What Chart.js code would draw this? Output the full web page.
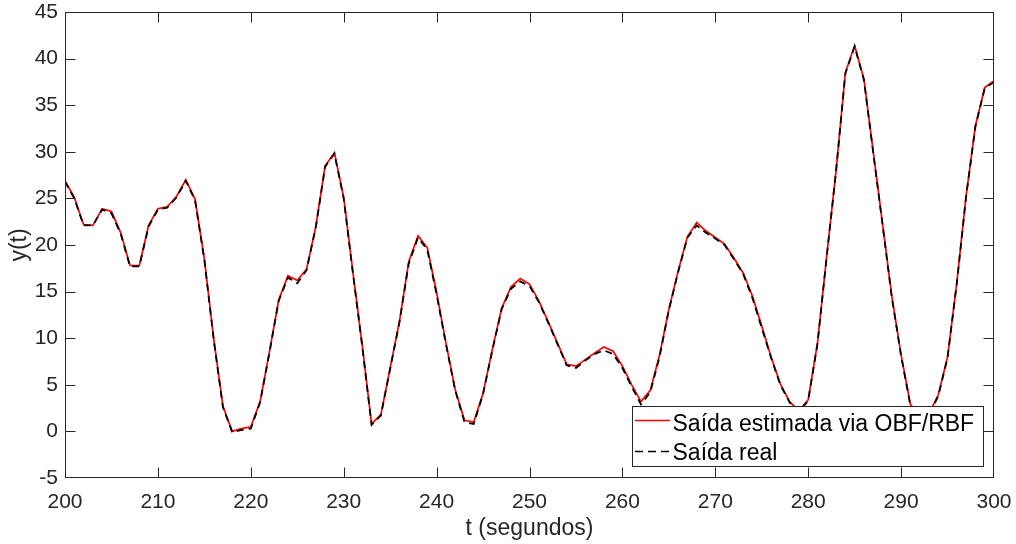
<!DOCTYPE html>
<html>
<head>
<meta charset="utf-8">
<script src="https://cdn.jsdelivr.net/npm/chart.js@4/dist/chart.umd.min.js"></script>
<style>
  body { margin: 0; background: #fff; }
  #wrap { width: 1016px; height: 544px; position: relative; }
</style>
</head>
<body>
<div id="wrap"><canvas id="saida-chart"></canvas></div>
<script>
const tempo = [
  200, 201, 202, 203, 204, 205, 206, 207, 208, 209,
  210, 211, 212, 213, 214, 215, 216, 217, 218, 219,
  220, 221, 222, 223, 224, 225, 226, 227, 228, 229,
  230, 231, 232, 233, 234, 235, 236, 237, 238, 239,
  240, 241, 242, 243, 244, 245, 246, 247, 248, 249,
  250, 251, 252, 253, 254, 255, 256, 257, 258, 259,
  260, 261, 262, 263, 264, 265, 266, 267, 268, 269,
  270, 271, 272, 273, 274, 275, 276, 277, 278, 279,
  280, 281, 282, 283, 284, 285, 286, 287, 288, 289,
  290, 291, 292, 293, 294, 295, 296, 297, 298, 299,
  300,
];

// saída do modelo OBF/RBF
const saidaEstimada = [
  26.9, 25.1, 22.2, 22.1, 23.9, 23.6, 21.3, 17.8, 17.8, 22.1,
  23.9, 24.1, 25.2, 27.0, 24.9, 18.5, 10.0, 2.7, 0.0, 0.3,
  0.5, 3.2, 8.5, 14.1, 16.7, 16.2, 17.4, 22.0, 28.5, 29.9,
  25.1, 17.0, 9.2, 0.8, 1.8, 6.8, 11.8, 18.2, 21.0, 19.7,
  14.9, 9.5, 4.5, 1.2, 1.0, 4.1, 8.8, 13.2, 15.5, 16.4,
  15.8, 14.0, 11.8, 9.5, 7.2, 7.0, 7.7, 8.4, 9.05, 8.6,
  7.0, 5.0, 3.2, 4.4, 8.2, 13.1, 17.2, 20.9, 22.4, 21.5,
  20.8, 20.1, 18.6, 17.0, 14.5, 11.3, 8.0, 5.1, 3.2, 2.2,
  3.4, 9.5, 18.9, 28.0, 38.5, 41.4, 37.8, 30.0, 22.3, 14.5,
  8.2, 2.9, 1.6, 1.9, 3.9, 8.0, 16.0, 25.3, 32.8, 36.9,
  37.6,
];

// saída medida do processo
const saidaReal = [
  26.8, 25.0, 22.1, 22.1, 23.8, 23.4, 21.2, 17.7, 17.7, 22.0,
  23.8, 24.0, 25.1, 26.9, 24.8, 18.4, 9.9, 2.6, -0.1, 0.15,
  0.3, 3.1, 8.4, 14.0, 16.5, 15.9, 17.3, 21.9, 28.4, 29.8,
  25.0, 16.9, 9.1, 0.7, 1.7, 6.7, 11.7, 18.0, 20.8, 19.5,
  14.7, 9.4, 4.4, 1.0, 0.8, 4.0, 8.7, 13.1, 15.3, 16.1,
  15.6, 13.9, 11.7, 9.4, 7.1, 6.8, 7.6, 8.3, 8.7, 8.3,
  6.8, 4.8, 2.9, 4.2, 8.0, 13.0, 17.1, 20.8, 22.1, 21.3,
  20.7, 20.0, 18.5, 16.9, 14.3, 11.1, 7.9, 5.0, 3.1, 2.1,
  3.3, 9.4, 18.8, 27.9, 38.4, 41.3, 37.7, 29.9, 22.2, 14.4,
  8.1, 2.8, 1.5, 1.8, 3.8, 7.9, 15.9, 25.2, 32.7, 36.8,
  37.5,
];

const yTicks = [-5, 0, 5, 10, 15, 20, 25, 30, 35, 40, 45];
const xTicks = [200, 210, 220, 230, 240, 250, 260, 270, 280, 290, 300];
const legendLabels = ["Saída estimada via OBF/RBF", "Saída real"];

const eixoCor = "#262626";
Chart.defaults.font.family = "'Liberation Sans', Arial, Helvetica, sans-serif";
Chart.defaults.color = eixoCor;

const toPoints = (ys) => tempo.map((t, i) => ({ x: t, y: ys[i] }));

// fixa o tamanho dos eixos e tira a folga que o Chart.js reserva para os rótulos
const fixScale = (size) => (scale) => {
  if (scale.isHorizontal()) scale.height = size;
  else scale.width = size;
  scale.paddingTop = 0;
  scale.paddingBottom = 0;
  scale.paddingLeft = 0;
  scale.paddingRight = 0;
};

const clamp = (v, lo, hi) => Math.min(Math.max(v, lo), hi);

// moldura com marcas para dentro nos quatro lados
const boxPlugin = {
  id: "box",
  afterDraw(chart) {
    const { ctx, chartArea: a, scales } = chart;
    const l = Math.round(a.left) + 0.5;
    const r = Math.round(a.right) - 0.5;
    const t = Math.round(a.top) + 0.5;
    const b = Math.round(a.bottom) - 0.5;
    ctx.save();
    ctx.strokeStyle = eixoCor;
    ctx.lineWidth = 1;
    ctx.strokeRect(l, t, r - l, b - t);
    ctx.beginPath();
    xTicks.forEach((v) => {
      const px = clamp(Math.round(scales.x.getPixelForValue(v)) + 0.5, l, r);
      ctx.moveTo(px, b);
      ctx.lineTo(px, b - 10);
      ctx.moveTo(px, t);
      ctx.lineTo(px, t + 10);
    });
    yTicks.forEach((v) => {
      const py = clamp(Math.round(scales.y.getPixelForValue(v)) + 0.5, t, b);
      ctx.moveTo(l, py);
      ctx.lineTo(l + 10, py);
      ctx.moveTo(r, py);
      ctx.lineTo(r - 10, py);
    });
    ctx.stroke();
    ctx.restore();
  },
};

// legenda com caixa no canto inferior direito
const legendPlugin = {
  id: "boxLegend",
  afterDraw(chart) {
    const { ctx } = chart;
    const x0 = 632.5, y0 = 406.5, w = 351, h = 60;
    ctx.save();
    ctx.fillStyle = "#fff";
    ctx.fillRect(x0, y0, w, h);
    ctx.strokeStyle = eixoCor;
    ctx.lineWidth = 1;
    ctx.strokeRect(x0, y0, w, h);

    ctx.lineWidth = 1.6;
    ctx.strokeStyle = "#ff0000";
    ctx.beginPath();
    ctx.moveTo(635, 420.5);
    ctx.lineTo(670, 420.5);
    ctx.stroke();

    ctx.strokeStyle = "#000";
    ctx.setLineDash([8, 5]);
    ctx.beginPath();
    ctx.moveTo(635, 451.5);
    ctx.lineTo(670, 451.5);
    ctx.stroke();
    ctx.setLineDash([]);

    ctx.fillStyle = "#000";
    ctx.font = "23px 'Liberation Sans', Arial, sans-serif";
    ctx.textBaseline = "alphabetic";
    ctx.textAlign = "left";
    ctx.fillText(legendLabels[0], 672.5, 430.5);
    ctx.fillText(legendLabels[1], 672.5, 460);
    ctx.restore();
  },
};

new Chart(document.getElementById("saida-chart"), {
  type: "line",
  data: {
    datasets: [
      {
        label: legendLabels[0],
        data: toPoints(saidaEstimada),
        borderColor: "#ff0000",
        borderWidth: 1.7,
        pointRadius: 0,
        tension: 0,
        order: 1,
      },
      {
        label: legendLabels[1],
        data: toPoints(saidaReal),
        borderColor: "#000000",
        borderWidth: 1.8,
        borderDash: [7, 5],
        pointRadius: 0,
        tension: 0,
        order: 0,
      },
    ],
  },
  options: {
    responsive: true,
    maintainAspectRatio: false,
    animation: false,
    layout: { padding: { top: 12, right: 22, left: 0, bottom: 0 } },
    plugins: {
      legend: { display: false },
      tooltip: { enabled: false },
    },
    scales: {
      x: {
        type: "linear",
        min: 200,
        max: 300,
        afterFit: fixScale(66),
        afterBuildTicks: (scale) => { scale.ticks = xTicks.map((v) => ({ value: v })); },
        grid: { display: false, drawTicks: false },
        border: { display: false },
        ticks: { font: { size: 21 }, color: eixoCor, padding: 12, maxRotation: 0 },
        title: {
          display: true,
          text: "t (segundos)",
          font: { size: 23 },
          color: eixoCor,
          padding: { top: 0, bottom: 2 },
        },
      },
      y: {
        min: -5,
        max: 45,
        afterFit: fixScale(65),
        afterBuildTicks: (scale) => { scale.ticks = yTicks.map((v) => ({ value: v })); },
        grid: { display: false, drawTicks: false },
        border: { display: false },
        ticks: { font: { size: 21 }, color: eixoCor, padding: 7 },
        title: {
          display: true,
          text: "y(t)",
          font: { size: 23 },
          color: eixoCor,
          padding: { top: 6, bottom: 0 },
        },
      },
    },
  },
  plugins: [boxPlugin, legendPlugin],
});
</script>
</body>
</html>
